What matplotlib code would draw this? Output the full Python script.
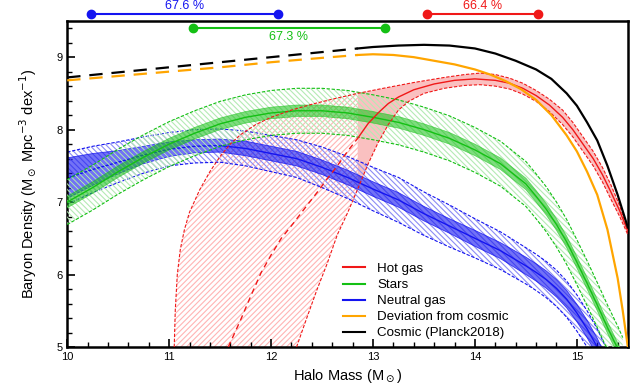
import numpy as np
import matplotlib
matplotlib.use("Agg")
import matplotlib.pyplot as plt
from matplotlib.lines import Line2D

plt.rcParams['font.family'] = ['Liberation Sans', 'DejaVu Sans']
plt.rcParams['hatch.linewidth'] = 0.8

# hot gas: upper / median / lower edges (log halo mass, log density)
hot_hi_x = np.array([11.05, 11.06, 11.08, 11.11, 11.15, 11.2, 11.3, 11.4, 11.5, 11.6, 11.7, 11.85,
                     12.0, 12.2, 12.4, 12.6, 12.85, 13.1, 13.4, 13.7, 13.9, 14.05, 14.2, 14.34,
                     14.47, 14.6, 14.73, 14.86, 14.96, 15.06, 15.16, 15.25, 15.33, 15.42, 15.5])
hot_hi_y = np.array([5.0, 5.5, 6.0, 6.35, 6.62, 6.86, 7.17, 7.42, 7.63, 7.8, 7.93, 8.07,
                     8.17, 8.27, 8.35, 8.42, 8.5, 8.57, 8.65, 8.72, 8.76, 8.78, 8.76, 8.71,
                     8.64, 8.54, 8.42, 8.27, 8.1, 7.9, 7.7, 7.48, 7.25, 6.95, 6.6])
hot_med_x = np.array([11.58, 11.7, 11.8, 11.9, 12.0, 12.1, 12.22, 12.35, 12.45, 12.55, 12.65, 12.75,
                      12.85, 12.95, 13.05, 13.15, 13.25, 13.4, 13.6, 13.8, 14.0, 14.2, 14.34,
                      14.47, 14.6, 14.73, 14.86, 14.96, 15.06, 15.16, 15.25, 15.33, 15.42, 15.5])
hot_med_y = np.array([5.0, 5.37, 5.7, 6.02, 6.27, 6.5, 6.71, 6.95, 7.13, 7.32, 7.5, 7.7,
                      7.88, 8.08, 8.23, 8.36, 8.45, 8.55, 8.63, 8.68, 8.7, 8.68, 8.64,
                      8.57, 8.47, 8.34, 8.17, 8.0, 7.8, 7.6, 7.38, 7.15, 6.88, 6.6])
hot_lo_x = np.array([12.25, 12.35, 12.45, 12.55, 12.65, 12.75, 12.85, 12.95, 13.05, 13.15, 13.25,
                     13.35, 13.5, 13.7, 13.9, 14.05, 14.2, 14.34, 14.47, 14.6, 14.73, 14.86,
                     14.96, 15.06, 15.16, 15.25, 15.33, 15.42, 15.5])
hot_lo_y = np.array([5.0, 5.4, 5.79, 6.15, 6.55, 6.85, 7.18, 7.52, 7.82, 8.07, 8.27,
                     8.39, 8.5, 8.57, 8.61, 8.62, 8.6, 8.56, 8.49, 8.39, 8.25, 8.07,
                     7.9, 7.7, 7.5, 7.28, 7.05, 6.8, 6.55])
hot_split = 12.85

# stars
star_x = np.array([10, 10.25, 10.5, 10.75, 11, 11.25, 11.5, 11.75, 12, 12.25, 12.5, 12.75, 13,
                   13.25, 13.5, 13.75, 14, 14.25, 14.5, 14.6, 14.7, 14.8, 14.9, 15.0, 15.1,
                   15.2, 15.3, 15.4, 15.45])
star_med = np.array([7.0, 7.2, 7.42, 7.62, 7.8, 7.95, 8.08, 8.17, 8.23, 8.26, 8.26, 8.23, 8.17,
                     8.1, 8.0, 7.88, 7.72, 7.53, 7.25, 7.08, 6.9, 6.69, 6.45, 6.17, 5.88,
                     5.58, 5.27, 4.98, 4.82])
star_in = 0.08
star_out = 0.31

# neutral gas
hi_x = np.array([10, 10.25, 10.5, 10.75, 11, 11.25, 11.5, 11.75, 12, 12.25, 12.5, 12.75, 13,
                 13.25, 13.5, 13.75, 14, 14.25, 14.5, 14.6, 14.7, 14.8, 14.9, 15.0, 15.1,
                 15.2, 15.3])
hi_med = np.array([7.33, 7.45, 7.55, 7.65, 7.73, 7.77, 7.78, 7.74, 7.67, 7.6, 7.48, 7.34, 7.18,
                   7.03, 6.84, 6.67, 6.5, 6.33, 6.12, 6.03, 5.93, 5.81, 5.66, 5.47, 5.25,
                   5.0, 4.7])
hi_in = np.array([0.28, 0.22, 0.16, 0.12, 0.1, 0.09, 0.09, 0.1, 0.1, 0.1, 0.1, 0.1, 0.1,
                  0.1, 0.1, 0.1, 0.11, 0.11, 0.12, 0.12, 0.12, 0.12, 0.12, 0.12, 0.12,
                  0.12, 0.12])
hi_out = np.array([0.36, 0.32, 0.28, 0.25, 0.23, 0.23, 0.23, 0.24, 0.25, 0.26, 0.28, 0.29, 0.3,
                   0.31, 0.3, 0.29, 0.27, 0.26, 0.25, 0.25, 0.25, 0.25, 0.25, 0.25, 0.25,
                   0.25, 0.25])

# deviation from cosmic
dev_dash_x = np.array([10, 10.5, 11, 11.5, 12, 12.5, 12.85])
dev_dash_y = np.array([8.68, 8.74, 8.8, 8.86, 8.93, 8.99, 9.03])
dev_x = np.array([12.85, 13.0, 13.2, 13.4, 13.6, 13.8, 14.0, 14.15, 14.3, 14.45, 14.6, 14.75,
                  14.9, 15.0, 15.1, 15.2, 15.3, 15.4, 15.45, 15.5])
dev_y = np.array([9.03, 9.04, 9.03, 9.0, 8.95, 8.9, 8.83, 8.76, 8.67, 8.56, 8.41, 8.2,
                  7.92, 7.7, 7.42, 7.1, 6.62, 5.95, 5.5, 5.0])

# cosmic baryons
cos_dash_x = np.array([10, 10.5, 11, 11.5, 12, 12.5, 12.85])
cos_dash_y = np.array([8.72, 8.79, 8.86, 8.93, 9.0, 9.07, 9.12])
cos_x = np.array([12.85, 13.0, 13.25, 13.5, 13.75, 14.0, 14.2, 14.4, 14.6, 14.75, 14.9, 15.0,
                  15.1, 15.2, 15.3, 15.4, 15.5])
cos_y = np.array([9.12, 9.14, 9.16, 9.17, 9.16, 9.12, 9.05, 8.95, 8.83, 8.7, 8.5, 8.33,
                  8.1, 7.85, 7.5, 7.1, 6.65])

# mass ranges holding the quoted fraction of each component
range_labels = ['67.6 %', '67.3 %', '66.4 %']
range_lo = [10.23, 11.23, 13.53]
range_hi = [12.07, 13.12, 14.62]
range_y = [9.59, 9.40, 9.59]

RED = '#f01818'
GREEN = '#14c014'
BLUE = '#1414f0'
ORANGE = '#ffa500'
DASH = (0, (3, 1.5))

fig = plt.figure(figsize=(6.4, 3.91), dpi=100)
ax = fig.add_axes([0.105, 0.1125, 0.876, 0.834])

# hot gas: hatched below the split mass, solid above
left_hi = hot_hi_x <= hot_split
left_lo = hot_lo_x <= hot_split
ax.fill(np.r_[hot_hi_x[left_hi], hot_lo_x[left_lo][::-1]],
        np.r_[hot_hi_y[left_hi], hot_lo_y[left_lo][::-1]],
        facecolor='none', edgecolor='#ffb4b4', hatch='//////', linewidth=0, zorder=1)
right_hi = hot_hi_x >= hot_split
right_lo = hot_lo_x >= hot_split
ax.fill(np.r_[hot_hi_x[right_hi], hot_lo_x[right_lo][::-1]],
        np.r_[hot_hi_y[right_hi], hot_lo_y[right_lo][::-1]],
        facecolor=RED, alpha=0.27, linewidth=0, zorder=1)
ax.plot(hot_hi_x, hot_hi_y, color=RED, lw=0.8, ls=DASH, zorder=5)
ax.plot(hot_lo_x, hot_lo_y, color=RED, lw=0.8, ls=DASH, zorder=5)
m = hot_med_x <= hot_split
ax.plot(hot_med_x[m], hot_med_y[m], color=RED, lw=1.0, ls=(0, (4, 3)), zorder=5)
m = hot_med_x >= hot_split
ax.plot(hot_med_x[m], hot_med_y[m], color=RED, lw=1.0, zorder=5)

# neutral gas
ax.fill_between(hi_x, hi_med - hi_out, hi_med + hi_out, facecolor='none',
                edgecolor='#8c8cf5', hatch='\\\\\\\\\\\\', linewidth=0, zorder=2)
ax.fill_between(hi_x, hi_med - hi_in, hi_med + hi_in, facecolor=BLUE, alpha=0.6,
                linewidth=0, zorder=2)
for yy in (hi_med - hi_out, hi_med + hi_out):
    ax.plot(hi_x, yy, color=BLUE, lw=0.8, ls=DASH, zorder=2)
for yy in (hi_med - hi_in, hi_med + hi_in):
    ax.plot(hi_x, yy, color=BLUE, lw=0.6, alpha=0.8, zorder=2)
ax.plot(hi_x, hi_med, color=BLUE, lw=1.0, zorder=2)

# stars
ax.fill_between(star_x, star_med - star_out, star_med + star_out, facecolor='none',
                edgecolor='#b4eab4', hatch='\\\\\\\\\\\\', linewidth=0, zorder=3)
ax.fill_between(star_x, star_med - star_in, star_med + star_in, facecolor=GREEN, alpha=0.55,
                linewidth=0, zorder=3)
for yy in (star_med - star_out, star_med + star_out):
    ax.plot(star_x, yy, color=GREEN, lw=0.8, ls=DASH, zorder=3)
for yy in (star_med - star_in, star_med + star_in):
    ax.plot(star_x, yy, color=GREEN, lw=0.5, alpha=0.6, zorder=3)
ax.plot(star_x, star_med, color=GREEN, lw=1.0, zorder=3)

# cosmic and deviation
ax.plot(dev_dash_x, dev_dash_y, color=ORANGE, lw=1.6, ls=(0, (6, 4)), zorder=6)
ax.plot(dev_x, dev_y, color=ORANGE, lw=1.6, zorder=6)
ax.plot(cos_dash_x, cos_dash_y, color='black', lw=1.6, ls=(0, (6, 4)), zorder=6)
ax.plot(cos_x, cos_y, color='black', lw=1.6, zorder=6)

# ranges above the frame
for lab, lo, hi, yy, c, above in zip(range_labels, range_lo, range_hi, range_y,
                                      [BLUE, GREEN, RED], [True, False, True]):
    ax.plot([lo, hi], [yy, yy], color=c, lw=1.5, marker='o', ms=6, clip_on=False, zorder=10)
    ty = yy + 0.03 if above else yy - 0.04
    ax.text((lo + hi) / 2, ty, lab, color=c, fontsize=9, ha='center',
            va='bottom' if above else 'top', clip_on=False)

ax.set_xlim(10, 15.5)
ax.set_ylim(5, 9.5)
ax.set_xticks([10, 11, 12, 13, 14, 15])
ax.set_yticks([5, 6, 7, 8, 9])
ax.set_xticks(np.arange(10, 15.51, 0.2), minor=True)
ax.set_yticks(np.arange(5, 9.51, 0.2), minor=True)
ax.tick_params(which='both', direction='in', top=False, right=False, labelsize=8)
ax.tick_params(which='major', length=6, width=1.2)
ax.tick_params(which='minor', length=3.5, width=1.0)
for side in ax.spines.values():
    side.set_linewidth(1.8)

ax.set_xlabel(r'Halo Mass (M$_\odot$)', fontsize=10.5)
ax.set_ylabel(r'Baryon Density (M$_\odot$ Mpc$^{-3}$ dex$^{-1}$)', fontsize=10.5, labelpad=12)

handles = [Line2D([], [], color=RED, lw=1.5), Line2D([], [], color=GREEN, lw=1.5),
           Line2D([], [], color=BLUE, lw=1.5), Line2D([], [], color=ORANGE, lw=1.5),
           Line2D([], [], color='black', lw=1.5)]
labels = ['Hot gas', 'Stars', 'Neutral gas', 'Deviation from cosmic', 'Cosmic (Planck2018)']
ax.legend(handles, labels, loc='upper left', bbox_to_anchor=(0.47, 0.295), frameon=False,
          fontsize=9.6, handlelength=1.7, labelspacing=0.28, handletextpad=0.9)

fig.savefig('out.png', dpi=100)
